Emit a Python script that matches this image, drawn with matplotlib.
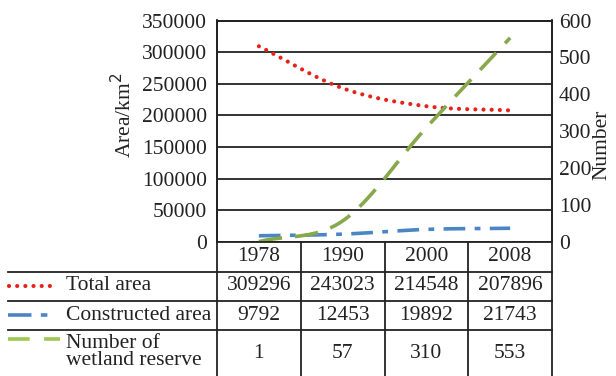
import numpy as np
import matplotlib
matplotlib.use("Agg")
import matplotlib.pyplot as plt
from matplotlib.lines import Line2D

plt.rcParams['font.family'] = ['Liberation Serif', 'DejaVu Serif']

years = ['1978', '1990', '2000', '2008']
total_area = [309296, 243023, 214548, 207896]
constructed_area = [9792, 12453, 19892, 21743]
wetland_reserve = [1, 57, 310, 553]
series_names = ['Total area', 'Constructed area', 'Number of\nwetland reserve']

W, H = 616, 376
fig = plt.figure(figsize=(W / 100, H / 100), dpi=100)

def fx(px):
    return px / W

def fy(py):
    return 1 - py / H

L, R, T, B = 217, 552, 20.5, 242
ax = fig.add_axes([fx(L), fy(B), fx(R) - fx(L), fy(T) - fy(B)])
ax2 = ax.twinx()

def smooth(vals, n=40):
    # Catmull-Rom spline through the data points (Excel-like smoothed line)
    p = np.asarray(vals, dtype=float)
    pts = np.concatenate([[2 * p[0] - p[1]], p, [2 * p[-1] - p[-2]]])
    xs, ys = [], []
    for i in range(len(p) - 1):
        p0, p1, p2, p3 = pts[i], pts[i + 1], pts[i + 2], pts[i + 3]
        t = np.linspace(0, 1, n, endpoint=(i == len(p) - 2))
        y = 0.5 * ((2 * p1) + (-p0 + p2) * t + (2 * p0 - 5 * p1 + 4 * p2 - p3) * t ** 2
                   + (-p0 + 3 * p1 - 3 * p2 + p3) * t ** 3)
        xs.append(i + t)
        ys.append(y)
    return np.concatenate(xs), np.concatenate(ys)

red = '#E5231B'
blue = '#4A86C6'
green = '#88A84C'
green_leg = '#9EC850'

red_style = dict(color=red, lw=3.0, linestyle=(0, (0.01, 1.95)), dash_capstyle='round')
blue_style = dict(color=blue, lw=2.6, linestyle=(0, (6, 2.6, 1.6, 2.6)), dash_capstyle='butt')
green_style = dict(color=green, lw=2.6, linestyle=(0, (6.5, 3.6)), dash_capstyle='butt')

x, y = smooth(total_area)
ax.plot(x, y, **red_style)
x, y = smooth(constructed_area)
ax.plot(x, y, **blue_style)
x, y = smooth(wetland_reserve)
ax2.plot(x, y, **green_style)

fs = 15.5
ax.set_xlim(-0.5, 3.5)
ax.set_ylim(0, 350000)
ax2.set_ylim(0, 600)
ax.set_yticks(np.arange(0, 350001, 50000))
ax2.set_yticks(np.arange(0, 601, 100))
ax.set_xticks([])
ax.grid(axis='y', color='#222222', lw=1.3)
ax.set_axisbelow(True)
for a in (ax, ax2):
    for s in a.spines.values():
        s.set_color('#222222')
        s.set_linewidth(1.3)
    a.spines['bottom'].set_visible(False)
ax.tick_params(axis='y', length=0, pad=7, labelsize=fs, colors='#222222')
ax2.tick_params(axis='y', length=0, pad=5, labelsize=fs, colors='#222222')
ax.set_ylabel('Area/km$^2$', fontsize=fs, color='#222222')
ax.yaxis.set_label_coords(-0.242, 0.573)
ax2.set_ylabel('Number', fontsize=fs, color='#222222', rotation=90)
ax2.yaxis.set_label_coords(1.12, 0.438)

# ---- table ----
lc = '#222222'
col_edges = np.linspace(L, R, len(years) + 1)
col_centers = (col_edges[:-1] + col_edges[1:]) / 2
row_lines = [B, 271.5, 300.5, 330]

def hline(x0, x1, yy):
    fig.add_artist(Line2D([fx(x0), fx(x1)], [fy(yy), fy(yy)], color=lc, lw=1.3))

def vline(xx, y0, y1):
    fig.add_artist(Line2D([fx(xx), fx(xx)], [fy(y0), fy(y1)], color=lc, lw=1.3))

hline(L, R, B)
for yy in row_lines[1:]:
    hline(8, R, yy)
for xx in col_edges:
    vline(xx, B, H + 2)

row_centers = [(row_lines[0] + row_lines[1]) / 2, (row_lines[1] + row_lines[2]) / 2,
               (row_lines[2] + row_lines[3]) / 2, (row_lines[3] + H) / 2]
for cx, yr in zip(col_centers, years):
    fig.text(fx(cx), fy(row_centers[0]), yr, ha='center', va='center', fontsize=fs, color=lc)

rows = [total_area, constructed_area, wetland_reserve]
for ri, vals in enumerate(rows):
    yc = row_centers[ri + 1]
    for cx, v in zip(col_centers, vals):
        fig.text(fx(cx), fy(yc), str(v), ha='center', va='center', fontsize=fs, color=lc)

# legend keys and names
fig.add_artist(Line2D([fx(9), fx(58)], [fy(286), fy(286)], **red_style))
fig.add_artist(Line2D([fx(8), fx(51)], [fy(315), fy(315)], **dict(blue_style, linestyle=(0, (6.5, 2.6, 1.8, 2.6)))))
fig.add_artist(Line2D([fx(8), fx(60)], [fy(339), fy(339)], **dict(green_style, color=green_leg, linestyle=(0, (6, 4)))))
fig.text(fx(66), fy(row_centers[1]), series_names[0], ha='left', va='center', fontsize=fs, color=lc)
fig.text(fx(66), fy(row_centers[2]), series_names[1], ha='left', va='center', fontsize=fs, color=lc)
fig.text(fx(66), fy(row_centers[3] - 1), series_names[2], ha='left', va='center', fontsize=fs,
         color=lc, linespacing=0.92)

fig.savefig('out.png', dpi=100)
